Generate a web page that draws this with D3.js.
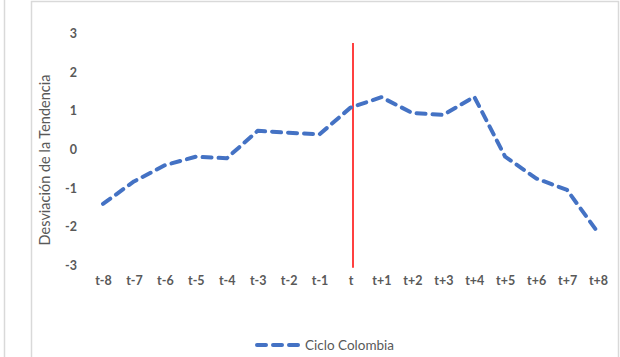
<!DOCTYPE html>
<html>
<head>
<meta charset="utf-8">
<script src="https://cdn.jsdelivr.net/npm/d3@7"></script>
<style>
html,body{margin:0;padding:0;background:#fff;}
svg{display:block;}
</style>
</head>
<body>
<svg id="chart" width="620" height="357"></svg>
<script>
const categories = ["t-8","t-7","t-6","t-5","t-4","t-3","t-2","t-1","t","t+1","t+2","t+3","t+4","t+5","t+6","t+7","t+8"];
const cicloColombia = [-1.42,-0.84,-0.42,-0.2,-0.24,0.47,0.42,0.38,1.07,1.34,0.93,0.88,1.35,-0.2,-0.76,-1.06,-2.16];
const yTicks = [3,2,1,0,-1,-2,-3];
const markerCategory = "t";
const markerRange = [2.74,-3.07];
const seriesName = "Ciclo Colombia";
const yTitle = "Desviación de la Tendencia";

const svg = d3.select("#chart");
const font = "Lato, 'Open Sans', sans-serif";
const gray = "#595959";

// outer frames
svg.append("line").attr("x1",4.5).attr("x2",4.5).attr("y1",0).attr("y2",357).attr("stroke","#d9d9d9").attr("stroke-width",1.5);
svg.append("path").attr("d","M31.5,357V1.5H618.5V357").attr("fill","none").attr("stroke","#d9d9d9").attr("stroke-width",1.5);

const x = d3.scalePoint().domain(categories).range([103,598]);
const y = d3.scaleLinear().domain([-3,3]).range([265,33]);

// y axis labels
const yAxis = d3.axisLeft(y).tickValues(yTicks).tickSize(0).tickPadding(0).tickFormat(d => String(d));
const yg = svg.append("g").attr("transform","translate(77,0)").call(yAxis);
yg.select(".domain").remove();
yg.selectAll("text").attr("font-family",font).attr("font-size",12.5).attr("font-weight","bold").attr("fill",gray).attr("dy","0.35em");

// x axis labels
const xAxis = d3.axisBottom(x).tickSize(0).tickPadding(0);
const xg = svg.append("g").attr("transform","translate(0,281)").call(xAxis);
xg.select(".domain").remove();
xg.selectAll("text").attr("font-family",font).attr("font-size",12.5).attr("font-weight","bold").attr("fill",gray).attr("dy","0.35em");

// y title
svg.append("text").attr("transform","translate(50,160) rotate(-90)").attr("text-anchor","middle")
  .attr("font-family",font).attr("font-size",14.5).attr("fill",gray).text(yTitle);

// red marker line
svg.append("line").attr("x1",x(markerCategory)+2.5).attr("x2",x(markerCategory)+2.5)
  .attr("y1",y(markerRange[0])).attr("y2",y(markerRange[1]))
  .attr("stroke","#ff0000").attr("stroke-width",1.5);

// series line
const line = d3.line().x((d,i)=>x(categories[i])).y(d=>y(d));
svg.append("path").datum(cicloColombia).attr("d",line).attr("fill","none")
  .attr("stroke","#4472c4").attr("stroke-width",4).attr("stroke-dasharray","9,7")
  .attr("stroke-linecap","round").attr("stroke-linejoin","round");

// legend
const lg = svg.append("g").attr("transform","translate(0,345)");
lg.append("line").attr("x1",257).attr("x2",300).attr("y1",0).attr("y2",0)
  .attr("stroke","#4472c4").attr("stroke-width",4).attr("stroke-dasharray","9,7").attr("stroke-linecap","round");
lg.append("text").attr("x",305).attr("y",0).attr("dy","0.35em").attr("font-family",font).attr("font-size",13.5).attr("fill",gray).text(seriesName);
</script>
</body>
</html>
